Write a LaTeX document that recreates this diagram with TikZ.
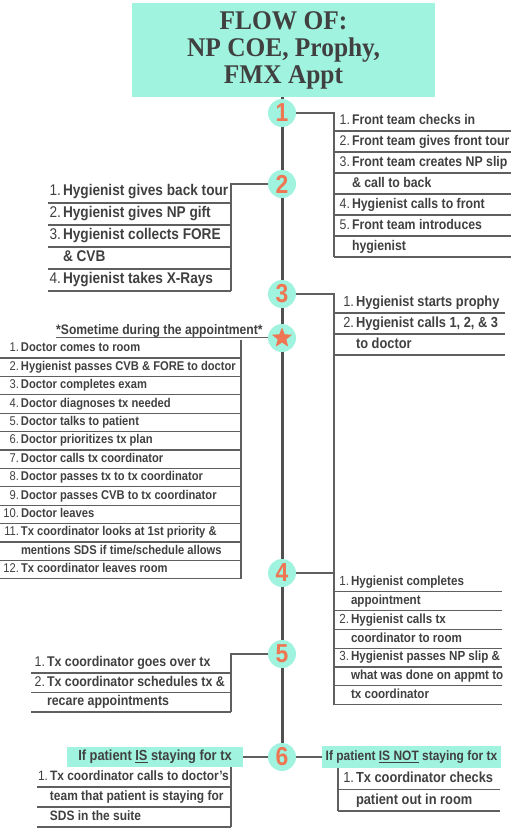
\documentclass[tikz,border=0pt]{standalone}
\usepackage{fontspec}
\setmainfont{Liberation Sans}[FakeStretch=0.88]
\newfontfamily\titlefont{Liberation Serif}[FakeStretch=0.94]
\usepackage{tikz}
\usetikzlibrary{shapes.geometric, positioning, backgrounds, calc}

\definecolor{mint}{RGB}{160,243,222}
\definecolor{numorange}{RGB}{238,118,82}
\definecolor{ink}{RGB}{64,64,64}
\definecolor{linegray}{RGB}{95,95,95}
\definecolor{spinegray}{RGB}{80,80,80}

\newlength{\numw}
\newlength{\roww}
% one list row: number (regular) + text (bold), fixed width
\newcommand{\li}[2]{\makebox[\roww][l]{\rule[-0.2em]{0pt}{0.9em}\makebox[\numw][r]{\mdseries #1\hspace{2pt}}#2}}
\newcommand{\lc}[1]{\li{}{#1}}

\begin{document}
\begin{tikzpicture}[
    x=1pt, y=-1pt,
    titlebox/.style={
      rectangle, fill=mint, minimum width=303pt, minimum height=94pt,
      align=center, text=ink,
      font=\titlefont\bfseries\fontsize{27}{27}\selectfont
    },
    dot/.style={circle, fill=mint, minimum size=28pt, inner sep=0pt,
                text=numorange, font=\fontsize{26}{26}\selectfont\bfseries},
    starmark/.style={star, star points=5, star point ratio=2.3,
                     fill=numorange, minimum size=21pt, inner sep=0pt},
    tagbox/.style={rectangle, fill=mint, inner sep=0pt, text=ink},
    numw/.code={\setlength{\numw}{#1}},
    roww/.code={\setlength{\roww}{#1}},
    lst/.style n args={4}{
      anchor=north west, inner sep=0pt, outer sep=0pt,
      minimum height=#2, roww=#1, numw=#4, text=ink,
      font=\fontsize{#3}{#3}\selectfont\bfseries
    },
    listA/.style={lst={177pt}{21pt}{14}{18pt}},
    listB/.style={lst={183pt}{22pt}{15.5}{15pt}},
    listC/.style={lst={171pt}{21pt}{14.6}{22pt}},
    listD/.style={lst={241pt}{18.4pt}{12.7}{21pt}},
    listE/.style={lst={168pt}{18.8pt}{13.2}{17pt}},
    listF/.style={lst={200pt}{19.5pt}{14.1}{16pt}},
    listG/.style={lst={194pt}{20pt}{13.6}{13pt}},
    listH/.style={lst={162pt}{21.5pt}{14.6}{18pt}},
    lin/.style={draw=linegray, line width=1.2pt},
    spine/.style={draw=spinegray, line width=3pt}
  ]
    \useasboundingbox (0,0) rectangle (511,835);

    % Title
    \node[titlebox] (title) at (283.5,50) {FLOW OF:\\NP COE, Prophy,\\FMX Appt};

    % Timeline markers
    \node[dot] (st1) at (282,113) {1};
    \node[dot] (st2) at (282,184) {2};
    \node[dot] (st3) at (282,294) {3};
    \node[dot] (stStar) at (282,338) {};
    \node[starmark] (starIcon) at (stStar) {};
    \node[dot] (st4) at (282,573) {4};
    \node[dot] (st5) at (282,654) {5};
    \node[dot] (st6) at (282,757) {6};

    % Step 1 — front team
    \foreach \t [count=\i] in {
      {\li{1.}{Front team checks in}},
      {\li{2.}{Front team gives front tour}},
      {\li{3.}{Front team creates NP slip}},
      {\lc{\& call to back}},
      {\li{4.}{Hygienist calls to front}},
      {\li{5.}{Front team introduces}},
      {\lc{hygienist}}}{
      \node[listA] (f\i) at (334,{89+21*\i}) {\t};
      \draw[lin] (f\i.south west) -- (f\i.south east);
    }
    \draw[lin] (st1.east) -| (f7.south west);

    % Step 2 — back tour
    \foreach \t [count=\i] in {
      {\li{1.}{Hygienist gives back tour}},
      {\li{2.}{Hygienist gives NP gift}},
      {\li{3.}{Hygienist collects FORE}},
      {\lc{\& CVB}},
      {\li{4.}{Hygienist takes X-Rays}}}{
      \node[listB] (h\i) at (48,{159+22*\i}) {\t};
      \draw[lin] (h\i.south west) -- (h\i.south east);
    }
    \draw[lin] (st2.west) -| (h5.south east);

    % Step 3 — prophy
    \foreach \t [count=\i] in {
      {\li{1.}{Hygienist starts prophy}},
      {\li{2.}{Hygienist calls 1, 2, \& 3}},
      {\lc{to doctor}}}{
      \node[listC] (p\i) at (334,{271+21*\i}) {\t};
      \draw[lin] (p\i.south west) -- (p\i.south east);
    }
    \draw[lin] (st3.east) -| (p3.south west);

    % Star — doctor exam
    \node[inner sep=0pt, anchor=south west, text=ink,
          font=\fontsize{13.8}{13.8}\selectfont\bfseries] (note) at (56,337.5)
          {*Sometime during the appointment*};
    \draw[lin] (note.south west) -- (note.south west -| stStar.west);
    \foreach \t [count=\i] in {
      {\li{1.}{Doctor comes to room}},
      {\li{2.}{Hygienist passes CVB \& FORE to doctor}},
      {\li{3.}{Doctor completes exam}},
      {\li{4.}{Doctor diagnoses tx needed}},
      {\li{5.}{Doctor talks to patient}},
      {\li{6.}{Doctor prioritizes tx plan}},
      {\li{7.}{Doctor calls tx coordinator}},
      {\li{8.}{Doctor passes tx to tx coordinator}},
      {\li{9.}{Doctor passes CVB to tx coordinator}},
      {\li{10.}{Doctor leaves}},
      {\li{11.}{Tx coordinator looks at 1st priority \&}},
      {\lc{mentions SDS if time/schedule allows}},
      {\li{12.}{Tx coordinator leaves room}}}{
      \node[listD] (d\i) at (0,{321.1+18.4*\i}) {\t};
      \draw[lin] (d\i.south west) -- (d\i.south east);
    }
    \draw[lin] (d1.north east) -- (d13.south east);

    % Step 4 — finish appointment
    \foreach \t [count=\i] in {
      {\li{1.}{Hygienist completes}},
      {\lc{appointment}},
      {\li{2.}{Hygienist calls tx}},
      {\lc{coordinator to room}},
      {\li{3.}{Hygienist passes NP slip \&}},
      {\lc{what was done on appmt to}},
      {\lc{tx coordinator}}}{
      \node[listE] (q\i) at (334,{554.2+18.8*\i}) {\t};
      \draw[lin] (q\i.south west) -- (q\i.south east);
    }
    \draw[lin] (p3.south west) -- (q7.south west);
    \draw[lin] (st4.east) -- (st4.east -| q1.west);

    % Step 5 — tx coordinator
    \foreach \t [count=\i] in {
      {\li{1.}{Tx coordinator goes over tx}},
      {\li{2.}{Tx coordinator schedules tx \&}},
      {\lc{recare appointments}}}{
      \node[listF] (t\i) at (31,{634+19.5*\i}) {\t};
      \draw[lin] (t\i.south west) -- (t\i.south east);
    }
    \draw[lin] (st5.west) -| (t3.south east);

    % Step 6 — staying or not
    \node[tagbox, minimum width=176pt, minimum height=20pt,
          font=\fontsize{14.6}{14.6}\selectfont\bfseries] (yes) at (155,757)
          {If patient \underline{IS} staying for tx};
    \node[tagbox, minimum width=179pt, minimum height=22pt,
          font=\fontsize{13.6}{13.6}\selectfont\bfseries] (no) at (411.5,757)
          {If patient \underline{IS NOT} staying for tx};
    \draw[lin] (yes.east) -- (st6.west);
    \draw[lin] (st6.east) -- (no.west);

    \foreach \t [count=\i] in {
      {\li{1.}{Tx coordinator calls to doctor's}},
      {\lc{team that patient is staying for}},
      {\lc{SDS in the suite}}}{
      \node[listG] (y\i) at (37,{747+20*\i}) {\t};
      \draw[lin] (y\i.south west) -- (y\i.south east);
    }
    \draw[lin] (y1.north east) -- (y3.south east);

    \foreach \t [count=\i] in {
      {\li{1.}{Tx coordinator checks}},
      {\lc{patient out in room}}}{
      \node[listH] (x\i) at (338,{746.5+21.5*\i}) {\t};
      \draw[lin] (x\i.south west) -- (x\i.south east);
    }
    \draw[lin] (x1.north west) -- (x2.south west);

    % Timeline spine
    \begin{scope}[on background layer]
      \draw[spine] (title.south -| st1) -- (st6);
    \end{scope}

\end{tikzpicture}
\end{document}
